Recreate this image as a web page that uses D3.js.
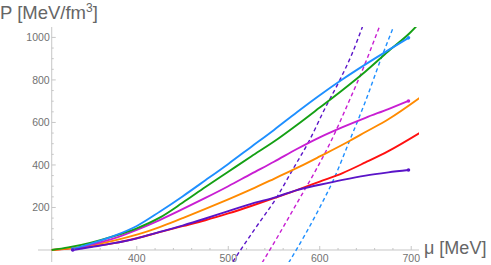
<!DOCTYPE html>
<html>
<head>
<meta charset="utf-8">
<script src="https://cdn.jsdelivr.net/npm/d3@7"></script>
<style>
  body { margin: 0; background: #fff; }
  text { font-family: "Liberation Sans", Arial, sans-serif; }
</style>
</head>
<body>
<svg width="491" height="265"></svg>
<script>
// pressure vs chemical potential, [mu, P] pairs
const red = [[307,0],[350,17],[375,32],[400,55],[425,84],[450,112],[475,140],[500,172],[525,207],[550,244],[575,282],[600,322],[625,362],[650,412],[675,465],[709,550]];
const orange = [[307,0],[350,22],[375,44],[400,72],[425,108],[450,150],[475,193],[500,238],[525,285],[550,335],[578,392],[600,440],[633,514],[650,555],[675,615],[709,715]];
const green = [[307,0],[325,12],[350,35],[375,65],[400,102],[425,152],[450,222],[475,296],[500,368],[525,440],[550,510],[575,588],[600,670],[625,753],[650,840],[675,935],[699,1023],[709,1068]];
const blue = [[330,5],[350,30],[375,66],[400,113],[425,180],[450,252],[475,328],[500,405],[525,485],[550,565],[575,648],[600,728],[625,803],[650,873],[675,940],[697,998]];
const magenta = [[330,2],[350,25],[375,55],[400,95],[425,141],[450,192],[475,245],[500,300],[525,358],[550,415],[575,475],[600,530],[625,578],[650,622],[675,663],[697,701]];
const indigo = [[330,0],[350,14],[375,32],[400,55],[425,85],[450,115],[475,148],[500,183],[525,217],[553,250],[575,282],[600,307],[625,330],[650,350],[675,365],[697,376]];

// dashed curves
const indigoDash = [[505,-55],[515,10],[530,105],[553,248],[570,375],[589,518],[605,660],[622,800],[635,920],[647,1054]];
const magentaDash = [[537,-60],[555,70],[575,220],[595,370],[613,518],[630,680],[648,860],[665,1048]];
const blueDash = [[566,-60],[585,80],[600,200],[615,330],[633,518],[650,700],[667,900],[681,1054]];

const xTicks = [400, 500, 600, 700];
const yTicks = [200, 400, 600, 800, 1000];

const svg = d3.select('svg');

const x = d3.scaleLinear().domain([292, 708.5]).range([38, 419]);
const y = d3.scaleLinear().domain([-56.5, 1049]).range([262, 27]);

const x0 = x(307); // y axis sits here
const y0 = y(0);   // x axis sits here

const axisCol = '#c6c6c6';
const labCol = '#727272';

// axes
svg.append('line')
    .attr('x1', 38).attr('x2', 419)
    .attr('y1', y0).attr('y2', y0)
    .attr('stroke', axisCol);
svg.append('line')
    .attr('x1', x0).attr('x2', x0)
    .attr('y1', 262).attr('y2', 27)
    .attr('stroke', axisCol);

// minor ticks every 20 MeV, every 50 on P
const xMinor = d3.range(320, 709, 20).filter(v => v % 100 != 0);
const yMinor = d3.range(50, 1050, 50).filter(v => v % 200 != 0);

svg.selectAll('.xmaj').data(xTicks).enter().append('line')
    .attr('x1', d => x(d)).attr('x2', d => x(d))
    .attr('y1', y0).attr('y2', y0 - 4)
    .attr('stroke', axisCol);
svg.selectAll('.xmin').data(xMinor).enter().append('line')
    .attr('x1', d => x(d)).attr('x2', d => x(d))
    .attr('y1', y0).attr('y2', y0 - 2)
    .attr('stroke', axisCol);
svg.selectAll('.ymaj').data(yTicks).enter().append('line')
    .attr('x1', x0).attr('x2', x0 + 4)
    .attr('y1', d => y(d)).attr('y2', d => y(d))
    .attr('stroke', axisCol);
svg.selectAll('.ymin').data(yMinor).enter().append('line')
    .attr('x1', x0).attr('x2', x0 + 2)
    .attr('y1', d => y(d)).attr('y2', d => y(d))
    .attr('stroke', axisCol);

svg.selectAll('.xlab').data(xTicks).enter().append('text')
    .attr('x', d => x(d)).attr('y', y0 + 12)
    .attr('text-anchor', 'middle')
    .attr('font-size', 10.5)
    .attr('fill', labCol)
    .text(d => d);
svg.selectAll('.ylab').data(yTicks).enter().append('text')
    .attr('x', x0 - 2).attr('y', d => y(d) + 3.8)
    .attr('text-anchor', 'end')
    .attr('font-size', 10.5)
    .attr('fill', labCol)
    .text(d => d);

// axis titles
const pt = svg.append('text')
    .attr('x', 0).attr('y', 19)
    .attr('font-size', 18.5)
    .attr('fill', '#666');
pt.append('tspan').text('P [MeV/fm');
pt.append('tspan').attr('font-size', 12).attr('dy', -7).text('3');
pt.append('tspan').attr('dy', 7).text(']');

svg.append('text')
    .attr('x', 424).attr('y', 254)
    .attr('font-size', 18)
    .attr('fill', '#666')
    .text('μ [MeV]');

// curves
svg.append('clipPath').attr('id', 'clip')
    .append('rect').attr('x', 38).attr('y', 27).attr('width', 381).attr('height', 235);

const g = svg.append('g').attr('clip-path', 'url(#clip)');

const line = d3.line()
    .x(d => x(d[0]))
    .y(d => y(d[1]))
    .curve(d3.curveMonotoneX);

const series = [
    {data: blueDash, color: '#1e8fff', dash: true},
    {data: magentaDash, color: '#c81ed2', dash: true},
    {data: indigoDash, color: '#5a14c8', dash: true},
    {data: red, color: '#ff1010'},
    {data: orange, color: '#ff8a00'},
    {data: magenta, color: '#c81ed2', dots: true},
    {data: green, color: '#14a014'},
    {data: blue, color: '#1e8fff', dots: true},
    {data: indigo, color: '#5a14c8', dots: true}
];

g.selectAll('.curve').data(series).enter().append('path')
    .attr('d', d => line(d.data))
    .attr('fill', 'none')
    .attr('stroke', d => d.color)
    .attr('stroke-width', d => d.dash ? 1.4 : 1.9)
    .attr('stroke-dasharray', d => d.dash ? '4,3' : null);

// end points on the list curves
const ends = series.filter(s => s.dots)
    .flatMap(s => [s.data[0], s.data[s.data.length - 1]].map(p => ({p: p, color: s.color})));
g.selectAll('.dot').data(ends).enter().append('circle')
    .attr('cx', d => x(d.p[0]))
    .attr('cy', d => y(d.p[1]))
    .attr('r', 1.8)
    .attr('fill', d => d.color);
</script>
</body>
</html>
